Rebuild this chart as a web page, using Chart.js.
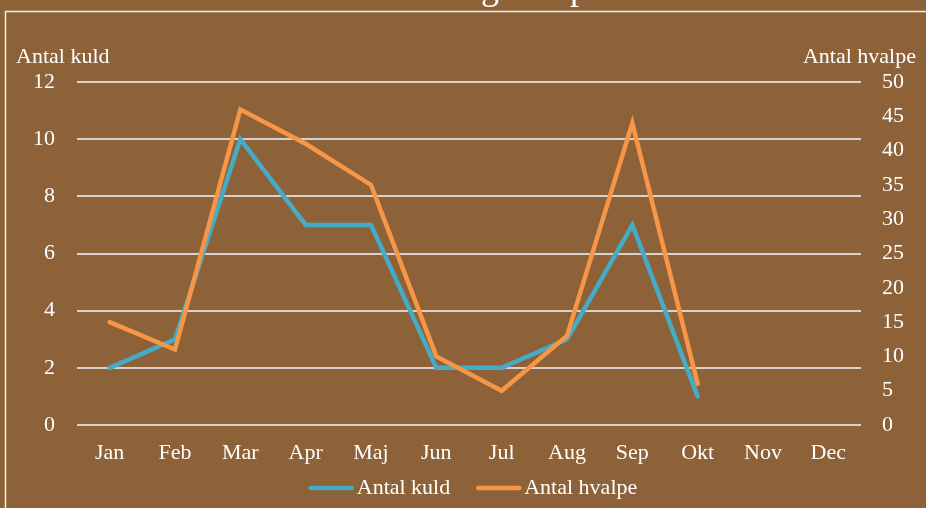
<!DOCTYPE html>
<html>
<head>
<meta charset="utf-8">
<script src="https://cdn.jsdelivr.net/npm/chart.js@4"></script>
<style>
  html, body { margin: 0; padding: 0; background: #8D6239; }
  #wrap { position: relative; width: 926px; height: 508px; }
</style>
</head>
<body>
<div id="wrap"><canvas id="c" width="926" height="508"></canvas></div>
<script>
const months = ["Jan","Feb","Mar","Apr","Maj","Jun","Jul","Aug","Sep","Okt","Nov","Dec"];
const antalKuld = [2, 3, 10, 7, 7, 2, 2, 3, 7, 1, null, null];
const antalHvalpe = [15, 11, 46, 41, 35, 10, 5, 13, 44, 6, null, null];
const leftTicks = [0, 2, 4, 6, 8, 10, 12];
const rightTicks = [0, 5, 10, 15, 20, 25, 30, 35, 40, 45, 50];
const seriesNames = ["Antal kuld", "Antal hvalpe"];
const axisTitles = ["Antal kuld", "Antal hvalpe"];
const chartTitle = "Antal kuld og hvalpe";

const FONT = "'Liberation Serif', 'DejaVu Serif', serif";
const FS = 22;
const BLUE = "#45ABC6";
const ORANGE = "#F79646";
const TEXT = "#FFFFFF";

const decor = {
  id: "decor",
  afterDraw(chart) {
    const ctx = chart.ctx;
    ctx.save();
    // outer border (extends past the viewport on right/bottom)
    ctx.strokeStyle = "#F4EEE6";
    ctx.lineWidth = 1.5;
    ctx.strokeRect(5.5, 11.5, 960, 520);
    // title (mostly above the visible area)
    ctx.fillStyle = TEXT;
    ctx.font = "36px " + FONT;
    ctx.textBaseline = "alphabetic";
    ctx.textAlign = "left";
    const pre = "Antal kuld o";
    const x0 = 490 - ctx.measureText(pre).width - ctx.measureText("g").width / 2;
    ctx.fillText(chartTitle, x0, -1);
    // axis titles
    ctx.font = FS + "px " + FONT;
    ctx.textBaseline = "middle";
    ctx.textAlign = "left";
    ctx.fillText(axisTitles[0], 16, 57);
    ctx.textAlign = "right";
    ctx.fillText(axisTitles[1], 916, 57);
    // legend
    const items = chart.data.datasets.map(d => ({ label: d.label, color: d.borderColor }));
    const lineLen = 45, gap = 3, between = 26;
    let total = 0;
    items.forEach((it, i) => {
      total += lineLen + gap + ctx.measureText(it.label).width + (i < items.length - 1 ? between : 0);
    });
    let x = 473 - total / 2;
    const y = 488;
    items.forEach((it) => {
      ctx.strokeStyle = it.color;
      ctx.lineWidth = 4.5;
      ctx.lineCap = "round";
      ctx.beginPath();
      ctx.moveTo(x + 2, y);
      ctx.lineTo(x + lineLen - 2, y);
      ctx.stroke();
      x += lineLen + gap;
      ctx.fillStyle = TEXT;
      ctx.textAlign = "left";
      ctx.textBaseline = "middle";
      ctx.fillText(it.label, x, y);
      x += ctx.measureText(it.label).width + between;
    });
    ctx.restore();
  }
};

new Chart(document.getElementById("c"), {
  type: "line",
  data: {
    labels: months,
    datasets: [
      {
        label: seriesNames[0],
        data: antalKuld,
        yAxisID: "yL",
        borderColor: BLUE,
        backgroundColor: BLUE,
        borderWidth: 4.5,
        pointRadius: 0,
        tension: 0,
        borderCapStyle: "round",
        order: 1
      },
      {
        label: seriesNames[1],
        data: antalHvalpe,
        yAxisID: "yR",
        borderColor: ORANGE,
        backgroundColor: ORANGE,
        borderWidth: 4.5,
        pointRadius: 0,
        tension: 0,
        borderCapStyle: "round",
        order: 0
      }
    ]
  },
  options: {
    responsive: false,
    animation: false,
    layout: { padding: { top: 82, bottom: 40, left: 0, right: 0 } },
    plugins: {
      legend: { display: false },
      title: { display: false },
      tooltip: { enabled: false }
    },
    scales: {
      x: {
        offset: true,
        grid: { display: false, drawTicks: false },
        border: { display: false },
        ticks: { color: TEXT, font: { family: FONT, size: FS }, padding: 15, maxRotation: 0, autoSkip: false },
        afterFit(s) { s.height = 43; }
      },
      yL: {
        position: "left",
        min: 0, max: 12,
        afterBuildTicks(s) { s.ticks = leftTicks.map(v => ({ value: v })); },
        grid: { color: "#D8D2CC", lineWidth: 2, drawTicks: false },
        border: { display: false },
        ticks: { color: TEXT, font: { family: FONT, size: FS }, padding: 22 },
        afterFit(s) { s.width = 77; }
      },
      yR: {
        position: "right",
        min: 0, max: 50,
        afterBuildTicks(s) { s.ticks = rightTicks.map(v => ({ value: v })); },
        grid: { display: false, drawTicks: false },
        border: { display: false },
        ticks: { color: TEXT, font: { family: FONT, size: FS }, padding: 21 },
        afterFit(s) { s.width = 65; }
      }
    }
  },
  plugins: [decor]
});
</script>
</body>
</html>
